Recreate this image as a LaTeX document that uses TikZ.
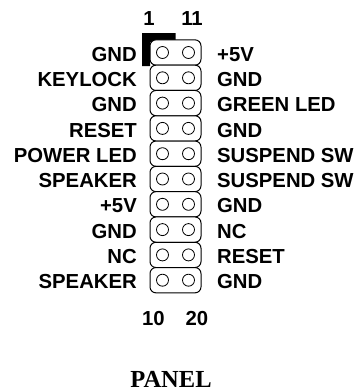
\documentclass[tikz,border=0pt]{standalone}
\usepackage{fontspec}
\setmainfont{Liberation Sans}
\newfontfamily\panelfont{Liberation Serif}
\usepackage{tikz}
\tikzset{pinrow/.style={draw=black, fill=white, line width=1pt, rounded corners=6pt, minimum width=51pt, minimum height=25.3pt, inner sep=0pt, outer sep=0pt},
  pinhole/.style={circle, draw=black, line width=.8pt, minimum size=12pt, inner sep=0pt, outer sep=0pt},
  pinlabel/.style={font=\fontsize{20.3pt}{22pt}\selectfont\bfseries, inner sep=0pt}}

\begin{document}
\begin{tikzpicture}[x=1pt, y=-1pt]
\useasboundingbox (0, 0) rectangle (360, 392);
  \fill[black] (142, 33) -- (175.5, 33) -- (175.5, 42) -- (150, 42) -- (150, 66) -- (142, 66) -- cycle;
  \foreach \row/\leftname/\rightname [count=\i from 0] in {
    a/GND/+5V, b/KEYLOCK/GND, c/GND/GREEN LED, d/RESET/GND, e/POWER LED/SUSPEND SW,
    f/SPEAKER/SUSPEND SW, g/+5V/GND, h/GND/NC, k/NC/RESET, m/SPEAKER/GND} {
    \pgfmathsetmacro{\rowy}{52.5 + 25.3*\i}
    \node[pinrow] (row\row) at (175.5, \rowy) {};
    \node[pinhole] (pin\row l) at (162.5, \rowy) {};
    \node[pinhole] (pin\row r) at (188.5, \rowy) {};
    \node[pinlabel, anchor=base east] (left\row) at (137, \rowy+8.6) {\leftname};
    \node[pinlabel, anchor=base west] (right\row) at (217, \rowy+8.6) {\rightname};
  }
  \node[pinlabel, anchor=base] (numa) at (149, 25.5) {1};
  \node[pinlabel, anchor=base] (numb) at (192, 25.5) {11};
  \node[pinlabel, anchor=base] (numc) at (153.5, 325) {10};
  \node[pinlabel, anchor=base] (numd) at (197, 325) {20};
  \node[font=\panelfont\fontsize{24.5pt}{26pt}\selectfont\bfseries, inner sep=0pt, anchor=base] (title) at (171, 387) {PANEL};
\end{tikzpicture}
\end{document}
